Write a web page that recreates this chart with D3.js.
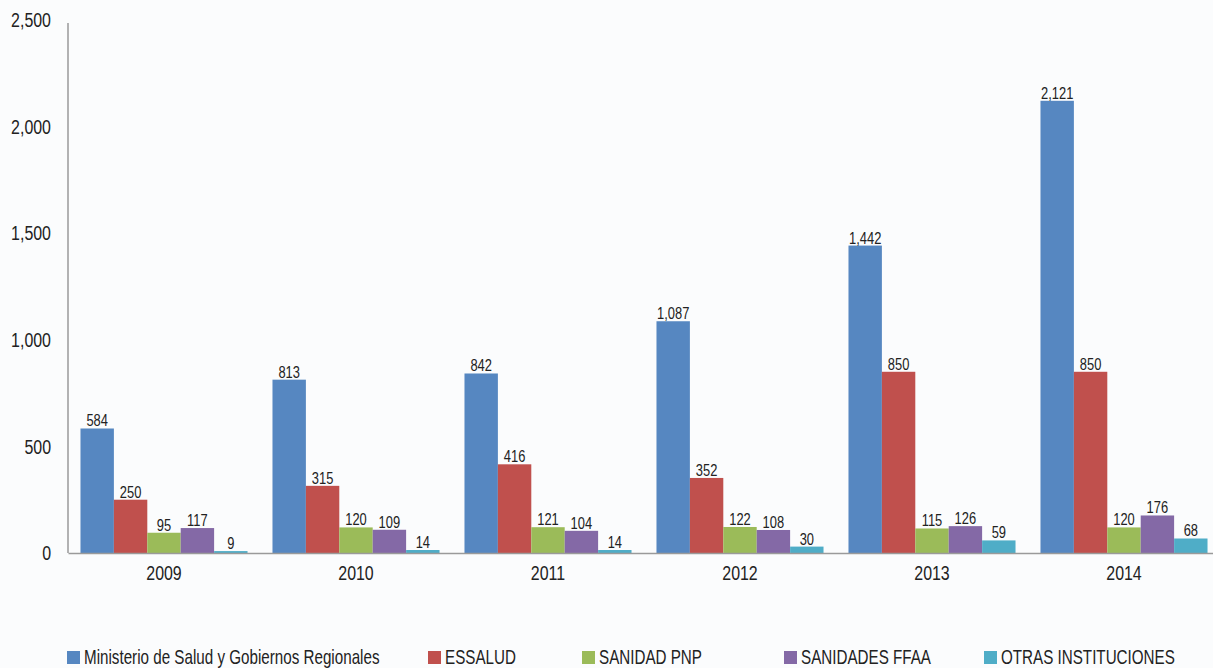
<!DOCTYPE html>
<html><head><meta charset="utf-8">
<script src="https://cdn.jsdelivr.net/npm/d3@7"></script>
<style>
html,body{margin:0;padding:0;background:#fbfcfd;}
svg{display:block;}
text{font-family:"Liberation Sans",Arial,sans-serif;fill:#222;}
</style></head>
<body>
<svg id="chart" width="1213" height="668"></svg>
<script>
const years = ["2009","2010","2011","2012","2013","2014"];
const seriesNames = ["Ministerio de Salud y Gobiernos Regionales","ESSALUD","SANIDAD PNP","SANIDADES FFAA","OTRAS INSTITUCIONES"];
const minsa = [584, 813, 842, 1087, 1442, 2121];
const essalud = [250, 315, 416, 352, 850, 850];
const sanidadPnp = [95, 120, 121, 122, 115, 120];
const sanidadesFfaa = [117, 109, 104, 108, 126, 176];
const otras = [9, 14, 14, 30, 59, 68];
const yTicks = [0, 500, 1000, 1500, 2000, 2500];
const colors = ["#5687c1","#c0504d","#9bbb59","#8469a6","#4fadc7"];

const seriesValues = [minsa, essalud, sanidadPnp, sanidadesFfaa, otras];

const svg = d3.select("#chart");
const mLeft = 68, mRight = 1220, mTop = 20, mBottom = 553;

const x = d3.scaleBand().domain(years).range([mLeft, mRight]).paddingInner(0.13).paddingOuter(0.065);
const xs = d3.scaleBand().domain(d3.range(seriesNames.length)).range([0, x.bandwidth()]);
const y = d3.scaleLinear().domain([0, 2500]).range([mBottom, mTop]);

// y axis
const yAxis = svg.append("g").attr("transform", `translate(${mLeft},0)`)
  .call(d3.axisLeft(y).tickValues(yTicks).tickSize(0).tickPadding(17).tickFormat(d3.format(",")));
yAxis.select(".domain").attr("stroke", "#9a9a9a").attr("stroke-width", 1.5).attr("d", `M0,${mTop+3}V${mBottom}`);
yAxis.selectAll("text").attr("font-size", 21).attr("fill", "#222").style("font-family", "inherit");

// bars
const groups = svg.append("g").selectAll("g").data(years).join("g")
  .attr("transform", d => `translate(${x(d)},0)`);

seriesValues.forEach((vals, si) => {
  groups.append("rect")
    .attr("x", xs(si))
    .attr("width", xs.bandwidth())
    .attr("y", (d, i) => y(vals[i]))
    .attr("height", (d, i) => mBottom - y(vals[i]))
    .attr("fill", colors[si]);
  groups.append("text")
    .attr("x", xs(si) + xs.bandwidth() / 2)
    .attr("y", (d, i) => y(vals[i]) - 2)
    .attr("text-anchor", "middle")
    .attr("font-size", 17)
    .text((d, i) => d3.format(",")(vals[i]));
});

// x axis
const xAxis = svg.append("g").attr("transform", `translate(0,${mBottom})`)
  .call(d3.axisBottom(x).tickSize(0).tickPadding(12));
xAxis.select(".domain").attr("stroke", "#9a9a9a").attr("stroke-width", 1.5);
xAxis.selectAll("text").attr("font-size", 21).attr("fill", "#222").style("font-family", "inherit");

// legend
const legendX = [67, 428, 582, 784, 984];
const legend = svg.append("g").selectAll("g").data(seriesNames).join("g")
  .attr("transform", (d, i) => `translate(${legendX[i]},651)`);
legend.append("rect").attr("width", 13).attr("height", 13).attr("y", 0).attr("fill", (d, i) => colors[i]);
legend.append("text").attr("x", 17).attr("y", 13).attr("font-size", 20).text(d => d);

// condensed look: horizontal squeeze around each text's x anchor
const k = 0.76;
svg.selectAll("text").each(function() {
  const x0 = +(this.getAttribute("x") || 0);
  const prev = this.getAttribute("transform") || "";
  this.setAttribute("transform", `${prev} translate(${(x0 * (1 - k)).toFixed(2)},0) scale(${k},1)`);
});
</script>
</body></html>
